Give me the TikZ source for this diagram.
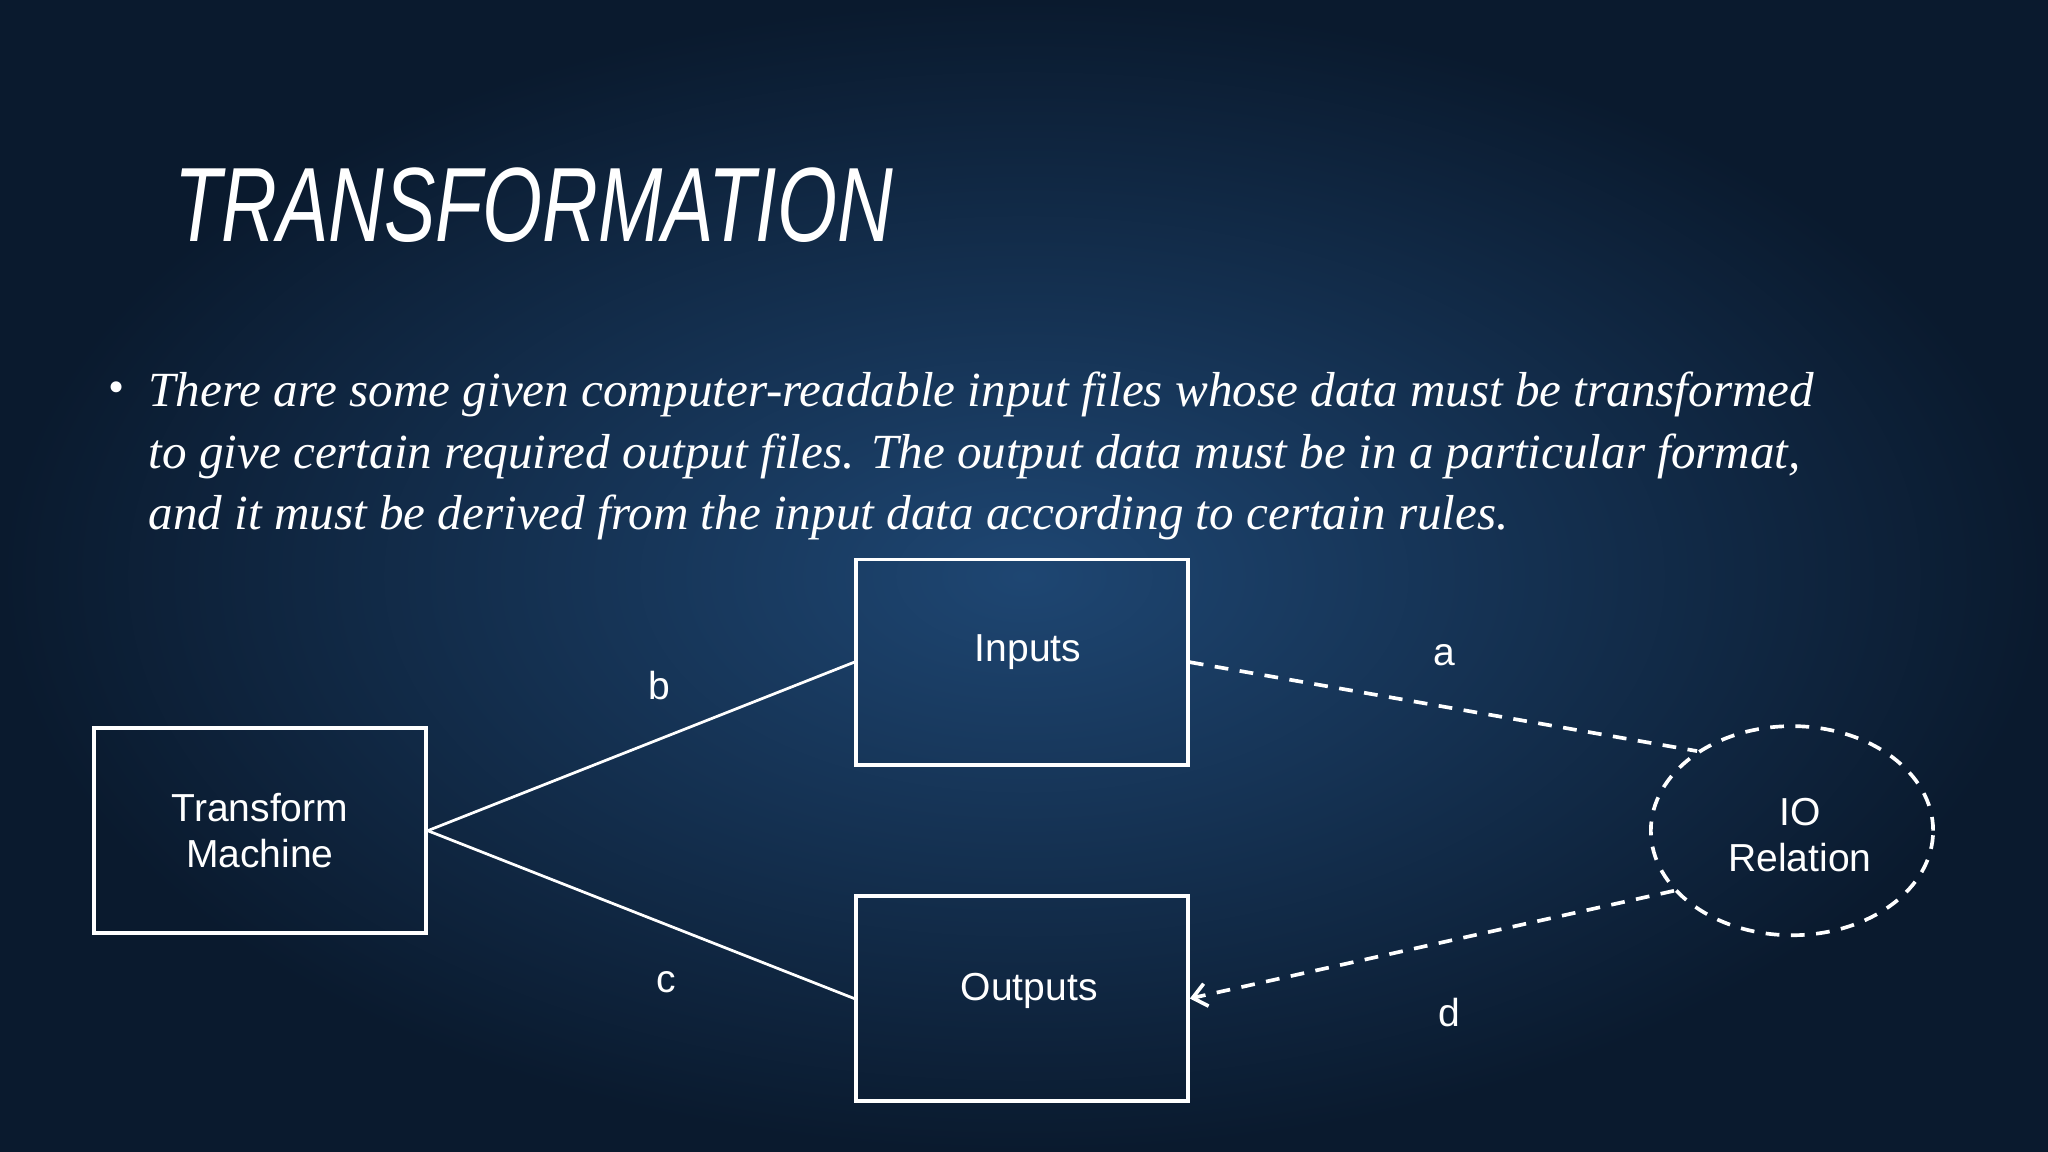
\documentclass[tikz,border=0pt]{standalone}
\usepackage{fontspec}
\setmainfont{Liberation Serif}
\newfontfamily\lsans{Liberation Sans}
\usetikzlibrary{shapes.geometric,arrows.meta}
\definecolor{bgmid}{HTML}{1E4672}
\definecolor{bgout}{HTML}{0A1A2E}
\tikzset{
 boxn/.style={draw=white,line width=0.8pt,minimum width=2.54cm,minimum height=1.57cm,text=white,font=\lsans\fontsize{8.5}{10}\selectfont,align=center},
 lbl/.style={text=white,font=\lsans\fontsize{8.5}{10}\selectfont},
 conn/.style={draw=white,line width=0.6pt},
 dconn/.style={draw=white,line width=0.8pt,dash pattern=on 3pt off 2.5pt}
}
\begin{document}
\begin{tikzpicture}[x=0.01cm,y=-0.01cm]
\shade[inner color=bgmid,outer color=bgout] (0,0) rectangle (1568,882);
\useasboundingbox (0,0) rectangle (1568,882);
\node[anchor=west,text=white,font=\lsans\itshape\fontsize{23}{26}\selectfont,xscale=0.73,inner sep=0pt] (title) at (133,157) {TRANSFORMATION};
\node[anchor=north west,text=white,font=\itshape\fontsize{10.7}{13.4}\selectfont,align=left,inner sep=0pt] (body) at (113,284)
 {There are some given computer-readable input files whose data must be transformed\\to give certain required output files. The output data must be in a particular format,\\and it must be derived from the input data according to certain rules.};
\node[text=white,font=\fontsize{10}{12}\selectfont] (bul) at (89,300) {\textbullet};
\node[boxn] (tm) at (199,636) {Transform\\Machine};
\node[boxn] (in) at (782.5,507) {};
\node[lbl] (inl) at (787,499) {Inputs};
\node[boxn] (out) at (782.5,764.5) {};
\node[lbl] (outl) at (788,759) {Outputs};
\node[draw=white,line width=0.8pt,dash pattern=on 3pt off 2.5pt,ellipse,minimum width=2.16cm,minimum height=1.6cm] (io) at (1372,636) {};
\node[text=white,font=\lsans\fontsize{8.5}{10}\selectfont,align=center] (iol) at (1378,639) {IO\\Relation};
\draw[conn] (tm.east) -- (in.west);
\draw[conn] (tm.east) -- (out.west);
\draw[dconn] (in.east) -- (io.140);
\draw[dconn,-{Straight Barb[length=3pt,width=5pt]}] (io.207) -- (out.east);
\node[lbl] (la) at (1106,502) {a};
\node[lbl] (lb) at (505,525) {b};
\node[lbl] (lc) at (510,752) {c};
\node[lbl] (ld) at (1110,775) {d};
\end{tikzpicture}
\end{document}
